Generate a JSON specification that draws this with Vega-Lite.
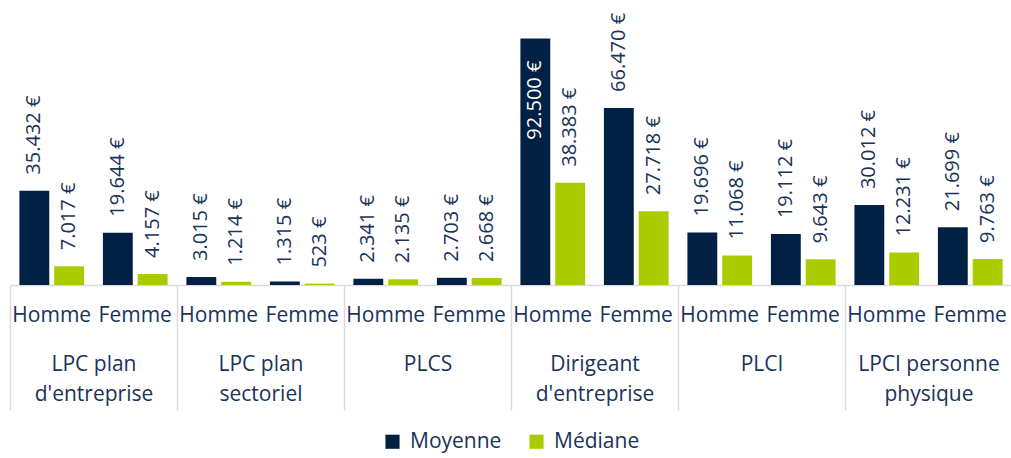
{
  "$schema": "https://vega.github.io/schema/vega-lite/v6.json",
  "width": 1002,
  "height": 285,
  "padding": {"left": 9, "top": 0, "right": 0, "bottom": 6},
  "config": {
    "font": "Open Sans",
    "view": {"stroke": null},
    "legend": {"layout": {"bottom": {"anchor": "middle"}}},
    "locale": {"number": {"decimal": ",", "thousands": ".", "grouping": [3], "currency": ["", " €"]}}
  },
  "data": {"values": [
    {"groupe": "LPC plan\nd'entreprise", "sexe": "Homme", "mesure": "Moyenne", "valeur": 35432},
    {"groupe": "LPC plan\nd'entreprise", "sexe": "Homme", "mesure": "Médiane", "valeur": 7017},
    {"groupe": "LPC plan\nd'entreprise", "sexe": "Femme", "mesure": "Moyenne", "valeur": 19644},
    {"groupe": "LPC plan\nd'entreprise", "sexe": "Femme", "mesure": "Médiane", "valeur": 4157},
    {"groupe": "LPC plan\nsectoriel", "sexe": "Homme", "mesure": "Moyenne", "valeur": 3015},
    {"groupe": "LPC plan\nsectoriel", "sexe": "Homme", "mesure": "Médiane", "valeur": 1214},
    {"groupe": "LPC plan\nsectoriel", "sexe": "Femme", "mesure": "Moyenne", "valeur": 1315},
    {"groupe": "LPC plan\nsectoriel", "sexe": "Femme", "mesure": "Médiane", "valeur": 523},
    {"groupe": "PLCS", "sexe": "Homme", "mesure": "Moyenne", "valeur": 2341},
    {"groupe": "PLCS", "sexe": "Homme", "mesure": "Médiane", "valeur": 2135},
    {"groupe": "PLCS", "sexe": "Femme", "mesure": "Moyenne", "valeur": 2703},
    {"groupe": "PLCS", "sexe": "Femme", "mesure": "Médiane", "valeur": 2668},
    {"groupe": "Dirigeant\nd'entreprise", "sexe": "Homme", "mesure": "Moyenne", "valeur": 92500},
    {"groupe": "Dirigeant\nd'entreprise", "sexe": "Homme", "mesure": "Médiane", "valeur": 38383},
    {"groupe": "Dirigeant\nd'entreprise", "sexe": "Femme", "mesure": "Moyenne", "valeur": 66470},
    {"groupe": "Dirigeant\nd'entreprise", "sexe": "Femme", "mesure": "Médiane", "valeur": 27718},
    {"groupe": "PLCI", "sexe": "Homme", "mesure": "Moyenne", "valeur": 19696},
    {"groupe": "PLCI", "sexe": "Homme", "mesure": "Médiane", "valeur": 11068},
    {"groupe": "PLCI", "sexe": "Femme", "mesure": "Moyenne", "valeur": 19112},
    {"groupe": "PLCI", "sexe": "Femme", "mesure": "Médiane", "valeur": 9643},
    {"groupe": "LPCI personne\nphysique", "sexe": "Homme", "mesure": "Moyenne", "valeur": 30012},
    {"groupe": "LPCI personne\nphysique", "sexe": "Homme", "mesure": "Médiane", "valeur": 12231},
    {"groupe": "LPCI personne\nphysique", "sexe": "Femme", "mesure": "Moyenne", "valeur": 21699},
    {"groupe": "LPCI personne\nphysique", "sexe": "Femme", "mesure": "Médiane", "valeur": 9763}
  ]},
  "transform": [{"calculate": "datum.groupe + '|' + datum.sexe", "as": "cle"}],
  "layer": [
    {
      "layer": [
        {
          "mark": {"type": "bar"},
          "encoding": {
            "color": {
              "field": "mesure",
              "type": "nominal",
              "sort": ["Moyenne", "Médiane"],
              "scale": {"domain": ["Moyenne", "Médiane"], "range": ["#002144", "#a9cb00"]},
              "legend": {
                "title": null, "orient": "bottom", "direction": "horizontal",
                "symbolType": "square", "symbolSize": 200, "labelFontSize": 21,
                "labelColor": "#1a3358", "columnPadding": 24, "offset": 20, "labelOffset": 7
              }
            }
          }
        },
        {
          "transform": [{"filter": "datum.valeur < 80000"}],
          "mark": {"type": "text", "angle": 270, "align": "left", "baseline": "middle", "dx": 16, "fontSize": 20, "color": "#1a3358"},
          "encoding": {"text": {"field": "valeur", "type": "quantitative", "format": "$,.0f"}}
        },
        {
          "transform": [{"filter": "datum.valeur >= 80000"}],
          "mark": {"type": "text", "angle": 270, "align": "right", "baseline": "middle", "dx": -22, "fontSize": 20, "color": "#ffffff"},
          "encoding": {"text": {"field": "valeur", "type": "quantitative", "format": "$,.0f"}}
        }
      ],
      "encoding": {
        "x": {
          "field": "cle", "type": "nominal", "sort": null,
          "scale": {"paddingInner": 0, "paddingOuter": 0},
          "axis": {
            "title": null, "orient": "bottom", "labelExpr": "split(datum.value, '|')[1]",
            "labelAngle": 0, "ticks": false, "domainColor": "#d9d9d9", "domainWidth": 1.5,
            "labelPadding": 19, "labelFontSize": 21, "labelColor": "#1a3358", "labelOverlap": false, "labelFlush": false
          }
        },
        "xOffset": {
          "field": "mesure", "type": "nominal", "sort": ["Moyenne", "Médiane"],
          "scale": {"paddingInner": 0.143, "paddingOuter": 0.27}
        },
        "y": {
          "field": "valeur", "type": "quantitative",
          "scale": {"domain": [0, 107000], "nice": false},
          "axis": null
        }
      }
    },
    {
      "mark": {"type": "point", "opacity": 0},
      "encoding": {
        "x": {
          "field": "groupe", "type": "nominal", "sort": null,
          "scale": {"paddingInner": 0, "paddingOuter": 0},
          "axis": {
            "title": null, "orient": "bottom", "domain": false, "ticks": true, "tickBand": "extent",
            "tickSize": 125, "tickColor": "#d9d9d9", "tickWidth": 1.5,
            "labelExpr": "isValid(datum.value) ? split(datum.value, '\\n') : ''", "labelAngle": 0, "labelLineHeight": 30,
            "labelPadding": -57, "labelFontSize": 21, "labelColor": "#1a3358", "labelOverlap": false, "labelFlush": false
          }
        }
      }
    }
  ],
  "resolve": {"scale": {"x": "independent"}, "axis": {"x": "independent"}}
}
